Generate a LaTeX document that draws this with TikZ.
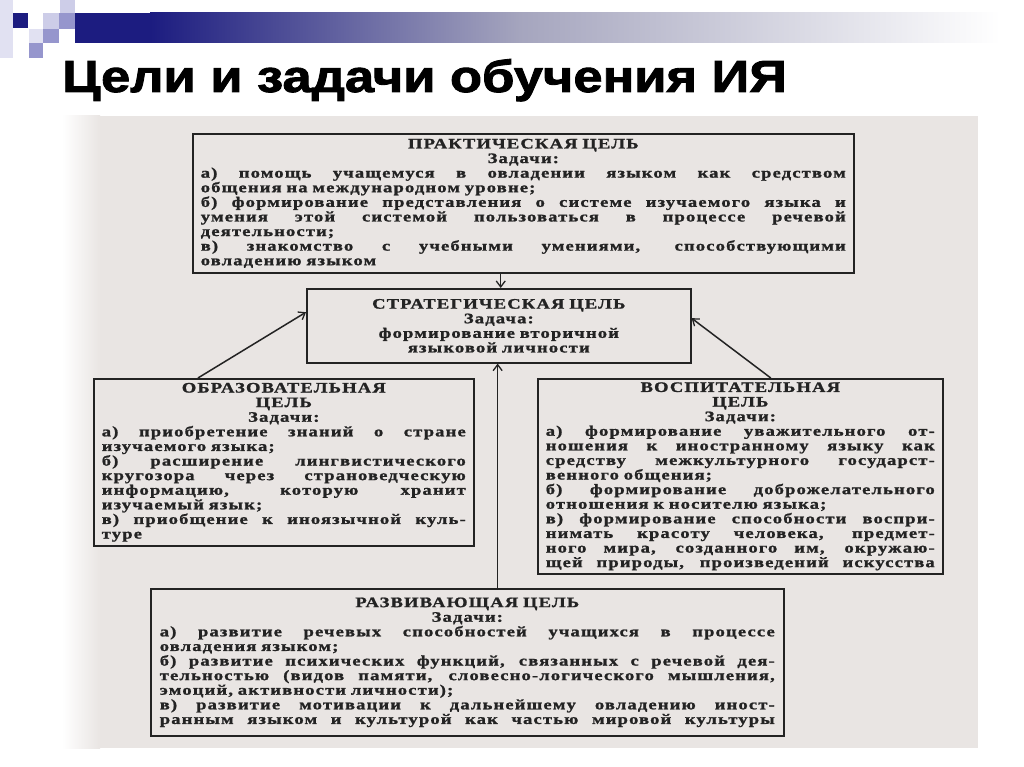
\documentclass[tikz,border=0pt]{standalone}
\usepackage{fontspec}
\setmainfont{Liberation Serif}
\newfontfamily\scanfont[FakeStretch=1.28,LetterSpace=8,FakeBold=1.3]{Liberation Serif Bold}
\newfontfamily\titlefont[FakeStretch=1.165,FakeBold=2]{Liberation Sans Bold}
\usetikzlibrary{arrows.meta,calc}
\definecolor{scan}{RGB}{233,229,227}
\definecolor{ink}{RGB}{35,35,35}
\definecolor{navy}{RGB}{28,28,128}
\definecolor{midbar}{RGB}{165,165,190}
\definecolor{lav1}{RGB}{205,205,232}
\definecolor{lav2}{RGB}{150,150,205}
\definecolor{lav3}{RGB}{225,225,242}
\newcommand\jline[1]{{\spaceskip=0pt\xspaceskip=0pt\makebox[\hsize][s]{#1}}}
\newcommand\lline[1]{\makebox[\hsize][l]{#1}}
\tikzset{
  goalbox/.style={draw=ink, line width=1.6pt, text=ink, anchor=north west,
    font=\scanfont\fontsize{14.5}{14.6}\selectfont, align=center,
    inner ysep=0pt},
  arr/.style={draw=ink, line width=1.5pt, -{Straight Barb[length=6pt,width=9pt,line width=1.3pt]}}
}
\begin{document}
\begin{tikzpicture}[x=1pt,y=-1pt]
\useasboundingbox (0,0) rectangle (1024,767);
\fill[white] (0,0) rectangle (1024,767);
% header decoration
\fill[lav3] (0,0) rectangle (13,58);
\fill[lav1] (60,0) rectangle (75,13);
\fill[navy] (13,13) rectangle (28,28);
\fill[lav1] (43,13) rectangle (59,29);
\fill[lav2] (59,13) rectangle (75,29);
\fill[lav3] (29,29) rectangle (43,43);
\fill[lav2] (43,29) rectangle (59,43);
\fill[lav2] (29,43) rectangle (43,58);
\fill[navy] (75,13) rectangle (150,43);
\shade[left color=navy, right color=midbar] (150,13) rectangle (520,43);
\shade[left color=midbar, right color=white] (519,13) rectangle (1000,43);
% title
\node[anchor=base west, inner sep=0pt, font=\titlefont\fontsize{45}{50}\selectfont] (title) at (62,92) {Цели и задачи обучения ИЯ};
% scan background
\fill[scan] (62,116) rectangle (978,748);
\shade[left color=white, right color=scan] (62,116) rectangle (100,748);
% boxes
\node[goalbox, text width=645pt, inner xsep=8pt, minimum height=139pt] (prac) at (192,133) {%
ПРАКТИЧЕСКАЯ ЦЕЛЬ\\
Задачи:\\
\jline{а) помощь учащемуся в овладении языком как средством}\\
\lline{общения на международном уровне;}\\
\jline{б) формирование представления о системе изучаемого языка и}\\
\jline{умения этой системой пользоваться в процессе речевой}\\
\lline{деятельности;}\\
\jline{в) знакомство с учебными умениями, способствующими}\\
\lline{овладению языком}};
\node[goalbox, text width=360pt, inner xsep=12pt, minimum height=74pt] (strat) at (306,288) {%
СТРАТЕГИЧЕСКАЯ ЦЕЛЬ\\
Задача:\\
формирование вторичной\\
языковой личности};
\node[goalbox, text width=364pt, inner xsep=8pt, minimum height=167pt] (edu) at (93,378) {%
ОБРАЗОВАТЕЛЬНАЯ\\
ЦЕЛЬ\\
Задачи:\\
\jline{а) приобретение знаний о стране}\\
\lline{изучаемого языка;}\\
\jline{б) расширение лингвистического}\\
\jline{кругозора через страноведческую}\\
\jline{информацию, которую хранит}\\
\lline{изучаемый язык;}\\
\jline{в) приобщение к иноязычной куль-}\\
\lline{туре}};
\node[goalbox, text width=389pt, inner xsep=8pt, minimum height=195pt] (vos) at (537,378) {%
ВОСПИТАТЕЛЬНАЯ\\
ЦЕЛЬ\\
Задачи:\\
\jline{а) формирование уважительного от-}\\
\jline{ношения к иностранному языку как}\\
\jline{средству межкультурного государст-}\\
\lline{венного общения;}\\
\jline{б) формирование доброжелательного}\\
\lline{отношения к носителю языка;}\\
\jline{в) формирование способности воспри-}\\
\jline{нимать красоту человека, предмет-}\\
\jline{ного мира, созданного им, окружаю-}\\
\jline{щей природы, произведений искусства}};
\node[goalbox, text width=615pt, inner xsep=9pt, minimum height=147pt] (dev) at (150,588) {%
РАЗВИВАЮЩАЯ ЦЕЛЬ\\
Задачи:\\
\jline{а) развитие речевых способностей учащихся в процессе}\\
\lline{овладения языком;}\\
\jline{б) развитие психических функций, связанных с речевой дея-}\\
\jline{тельностью (видов памяти, словесно-логического мышления,}\\
\lline{эмоций, активности личности);}\\
\jline{в) развитие мотивации к дальнейшему овладению иност-}\\
\jline{ранным языком и культурой как частью мировой культуры}};
% connectors
\coordinate (sTop) at ($(strat.north west)!0.505!(strat.north east)$);
\draw[arr] (sTop |- prac.south) -- (sTop);
\coordinate (sBot) at ($(strat.south west)!0.497!(strat.south east)$);
\draw[arr] (sBot |- dev.north) -- (sBot);
\coordinate (eduTop) at ($(edu.north west)!0.275!(edu.north east)$);
\coordinate (sLeft) at ($(strat.north west)!0.32!(strat.south west)$);
\draw[arr] (eduTop) -- (sLeft);
\coordinate (vosTop) at ($(vos.north west)!0.575!(vos.north east)$);
\coordinate (sRight) at ($(strat.north east)!0.4!(strat.south east)$);
\draw[arr] (vosTop) -- (sRight);
\end{tikzpicture}
\end{document}
